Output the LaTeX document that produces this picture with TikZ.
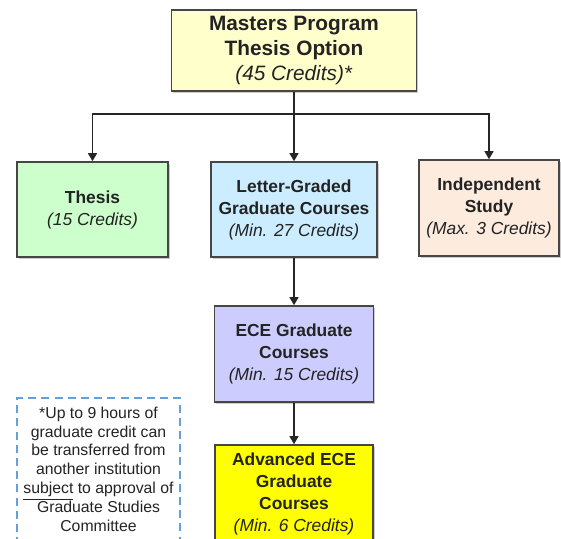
\documentclass[tikz,border=0pt]{standalone}
\usepackage{fontspec}
\setmainfont{Liberation Sans}
\usetikzlibrary{arrows.meta,positioning,shadows}
\definecolor{topyellow}{RGB}{255,255,204}
\definecolor{thesisgreen}{RGB}{204,255,204}
\definecolor{letterblue}{RGB}{204,236,255}
\definecolor{studypeach}{RGB}{253,235,222}
\definecolor{ecelilac}{RGB}{204,204,255}
\definecolor{advyellow}{RGB}{255,255,0}
\definecolor{boxgray}{RGB}{70,70,70}
\definecolor{inkgray}{RGB}{35,35,35}
\definecolor{notedash}{RGB}{100,160,220}
\tikzset{
  reqbox/.style={draw=boxgray,line width=0.8pt,align=center,inner sep=0pt,
    text=inkgray,
    drop shadow={shadow xshift=0.8pt,shadow yshift=-0.8pt,fill=black!40},
    font=\fontsize{8.7}{11}\selectfont},
  rootbox/.style={reqbox,font=\fontsize{10.4}{12.5}\selectfont},
  notebox/.style={draw=notedash,line width=0.8pt,dash pattern=on 4pt off 2.6pt,
    align=center,inner sep=0pt,text=inkgray,font=\fontsize{7.9}{9.4}\selectfont},
  trunk/.style={draw=black!85,line width=0.6pt},
  link/.style={trunk,-{Triangle[length=4pt,width=4.5pt]}}
}

\begin{document}
\begin{tikzpicture}[x=0.5pt,y=-0.5pt]
  \useasboundingbox (0,0) rectangle (561,539);

  \node[rootbox,fill=topyellow,minimum width=122.5pt,minimum height=40.5pt]
    (master) at (294,50.5) {\textbf{Masters Program}\\\textbf{Thesis Option}\\\textit{(45 Credits)*}};

  \node[reqbox,fill=thesisgreen,minimum width=75.5pt,minimum height=47.5pt]
    (thesis) at (92.5,209.5) {\textbf{Thesis}\\\textit{(15 Credits)}};
  \node[reqbox,fill=letterblue,minimum width=83pt,minimum height=47.5pt]
    (letter) at (294,209.5) {\textbf{Letter-Graded}\\\textbf{Graduate Courses}\\\textit{(Min. 27 Credits)}};
  \node[reqbox,fill=studypeach,minimum width=70pt,minimum height=48pt]
    (study) at (489,208) {\textbf{Independent}\\\textbf{Study}\\\textit{(Max. 3 Credits)}};

  \node[reqbox,fill=ecelilac,minimum width=79.5pt,minimum height=48pt]
    (ece) at (294,354) {\textbf{ECE Graduate}\\\textbf{Courses}\\\textit{(Min. 15 Credits)}};
  \node[reqbox,fill=advyellow,minimum width=79pt,minimum height=49pt]
    (advanced) at (294,494) {\textbf{Advanced ECE}\\\textbf{Graduate}\\\textbf{Courses}\\\textit{(Min. 6 Credits)}};

  \node[notebox,minimum width=81.5pt,minimum height=71pt]
    (transfer) at (98.5,469) {*Up to 9 hours of\\graduate credit can\\be transferred from\\another institution\\\underline{subject}\ to approval of\\Graduate Studies\\Committee};

  \coordinate (split) at (294,114);
  \draw[trunk] (master.south) -- (split);
  \draw[link] (split) -| (thesis.north);
  \draw[link] (split) -| (study.north);
  \draw[link] (split) -- (letter.north);
  \draw[link] (letter) -- (ece);
  \draw[link] (ece) -- (advanced);
\end{tikzpicture}
\end{document}
